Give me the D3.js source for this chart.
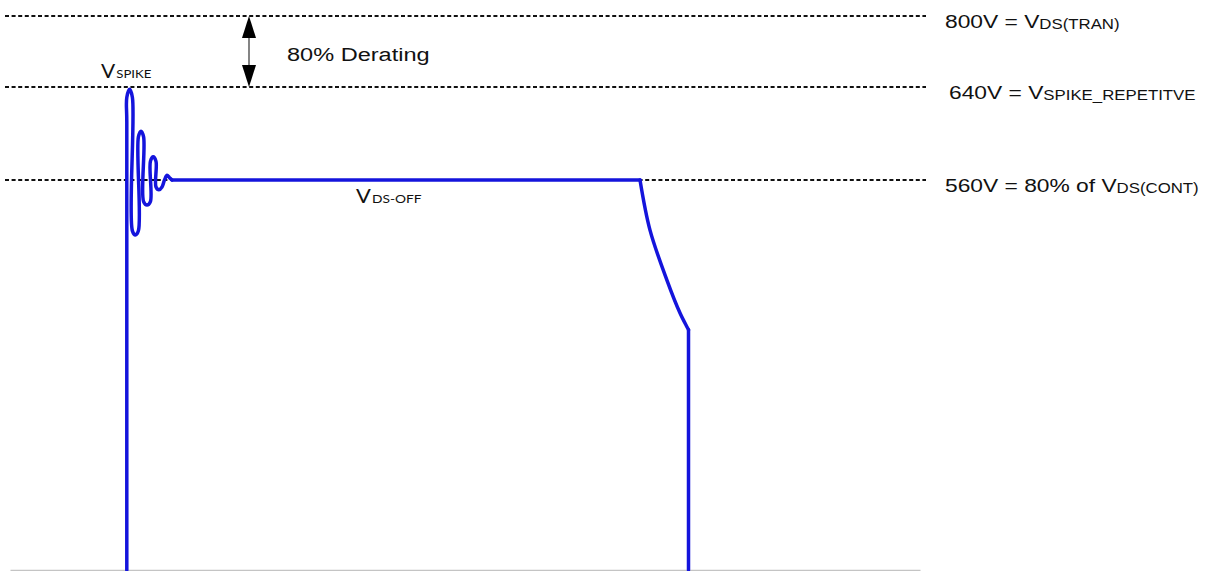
<!DOCTYPE html>
<html>
<head>
<meta charset="utf-8">
<script src="https://cdn.jsdelivr.net/npm/d3@7"></script>
<style>
  html, body { margin: 0; padding: 0; background: #ffffff; }
  svg { display: block; }
</style>
</head>
<body>
<svg id="chart" width="1212" height="571"></svg>
<script>
// Drain-source voltage waveform at MOSFET turn-off, with derating levels.

// Reference voltage levels (V)
const refLevels = [800, 640, 560];
const refMain = ["800V = V", "640V = V", "560V = 80% of V"];
const refSub = ["DS(TRAN)", "SPIKE_REPETITVE", "DS(CONT)"];

// Trace: time (arbitrary units), drain-source voltage (V) and waveform phase
const traceTime = [
  116.8,
  116.8, 116.8, 119.6, 122.4,
  122.4, 125.4, 128.4,
  128.4, 131.0, 133.6,
  133.6, 137.0, 140.4,
  140.4, 143.2, 146.0,
  146.0, 149.0, 152.0,
  154.5, 157.0, 159.5, 162.0,
  630.0,
  640.0, 657.0, 670.0, 677.0, 678.5,
  678.5
];
const traceVolt = [
  0,
  610, 631, 638, 631,
  487, 481, 487,
  597, 602, 597,
  529, 524, 529,
  576, 580, 576,
  550, 546, 550,
  560, 564, 562, 560,
  560,
  488, 416, 369, 349, 345,
  0
];
const tracePhase = [
  "rise",
  "ring", "ring", "ring", "ring",
  "ring", "ring", "ring",
  "ring", "ring", "ring",
  "ring", "ring", "ring",
  "ring", "ring", "ring",
  "ring", "ring", "ring",
  "ring", "ring", "ring", "ring",
  "plateau",
  "fall", "fall", "fall", "fall", "fall",
  "drop"
];

// Annotation texts
const spikeLabel = ["V", "SPIKE"];
const offLabel = ["V", "DS-OFF"];
const deratingLabel = "80% Derating";

const svg = d3.select("#chart");

// Time scale across the plot; voltage scale is piecewise (not to scale)
const x = d3.scaleLinear().domain([0, 910]).range([10, 920]);
const y = d3.scaleLinear().domain([0, 560, 640, 800]).range([570, 180, 87, 16]);

// Text in this drawing is set wide
function wideText(sel, px, py, stretch) {
  return sel.append("text")
    .attr("transform", `translate(${px},${py}) scale(${stretch},1)`);
}

// Baseline axis without ticks
const axis = svg.append("g")
  .attr("transform", `translate(0,${y(0)})`)
  .call(d3.axisBottom(x).ticks(0).tickSizeOuter(0));
axis.select(".domain").attr("stroke", "#c4c4c4").attr("stroke-width", 1.5);

// Dashed reference levels
const dashX0 = 5, dashX1 = 926;
svg.append("g").selectAll("line")
  .data(refLevels)
  .join("line")
  .attr("x1", dashX0).attr("x2", dashX1)
  .attr("y1", d => y(d)).attr("y2", d => y(d))
  .attr("stroke", "#111")
  .attr("stroke-width", 2)
  .attr("stroke-dasharray", "4,2.6");

// Right-hand level labels
const labelX = [945, 949, 945];
const labelDy = [12, 12, 12];
const lbl = svg.append("g")
  .attr("font-family", "'Liberation Sans', Arial, sans-serif")
  .attr("fill", "#111");
refLevels.forEach((lv, i) => {
  const t = wideText(lbl, labelX[i], y(lv) + labelDy[i], 1.2)
    .attr("font-size", 19);
  t.append("tspan").text(refMain[i]);
  t.append("tspan").attr("font-size", 14).attr("dy", 1).text(refSub[i]);
});

// Double-headed derating arrow between 800V and 640V
const arrowX = 249;
const headW = 14, headL = 22;
const ya = y(800), yb = y(640);
svg.append("line")
  .attr("x1", arrowX).attr("x2", arrowX)
  .attr("y1", ya + headL - 2).attr("y2", yb - headL + 2)
  .attr("stroke", "#333").attr("stroke-width", 1.2);
svg.append("path")
  .attr("d", `M${arrowX},${ya} L${arrowX - headW / 2},${ya + headL} L${arrowX + headW / 2},${ya + headL} Z`)
  .attr("fill", "#000");
svg.append("path")
  .attr("d", `M${arrowX},${yb} L${arrowX - headW / 2},${yb - headL} L${arrowX + headW / 2},${yb - headL} Z`)
  .attr("fill", "#000");

wideText(svg, 287, 61, 1.24)
  .attr("font-family", "'Liberation Sans', Arial, sans-serif")
  .attr("font-size", 19)
  .attr("fill", "#111")
  .text(deratingLabel);

// Voltage trace, drawn phase by phase: smooth ringing and fall, straight edges and plateau
const pts = traceTime.map((t, i) => ({ t, v: traceVolt[i], phase: tracePhase[i] }));
const phases = [];
pts.forEach((p, i) => {
  const last = phases[phases.length - 1];
  if (!last || last.phase !== p.phase) {
    const seg = { phase: p.phase, points: [] };
    if (i > 0) seg.points.push(pts[i - 1]);
    phases.push(seg);
  }
  phases[phases.length - 1].points.push(p);
});
const curveFor = {
  rise: d3.curveLinear,
  ring: d3.curveCatmullRom.alpha(0.5),
  plateau: d3.curveLinear,
  fall: d3.curveCatmullRom.alpha(0.5),
  drop: d3.curveLinear
};

svg.append("g")
  .attr("fill", "none")
  .attr("stroke", "#1414dc")
  .attr("stroke-width", 3.5)
  .attr("stroke-linejoin", "round")
  .attr("stroke-linecap", "round")
  .selectAll("path")
  .data(phases.filter(s => s.points.length > 1))
  .join("path")
  .attr("d", s => d3.line()
    .x(d => x(d.t))
    .y(d => y(d.v))
    .curve(curveFor[s.phase])(s.points));

// Trace annotations
const annoFont = "Lato, 'Open Sans', sans-serif";
const sp = wideText(svg, 101, 78, 1.1)
  .attr("font-family", annoFont)
  .attr("fill", "#111")
  .attr("font-size", 19);
sp.append("tspan").text(spikeLabel[0]);
sp.append("tspan").attr("font-size", 12).attr("dx", 1).text(spikeLabel[1]);

const off = wideText(svg, 356, 203, 1.15)
  .attr("font-family", annoFont)
  .attr("fill", "#111")
  .attr("font-size", 19);
off.append("tspan").text(offLabel[0]);
off.append("tspan").attr("font-size", 12).attr("dx", 1).text(offLabel[1]);
</script>
</body>
</html>
